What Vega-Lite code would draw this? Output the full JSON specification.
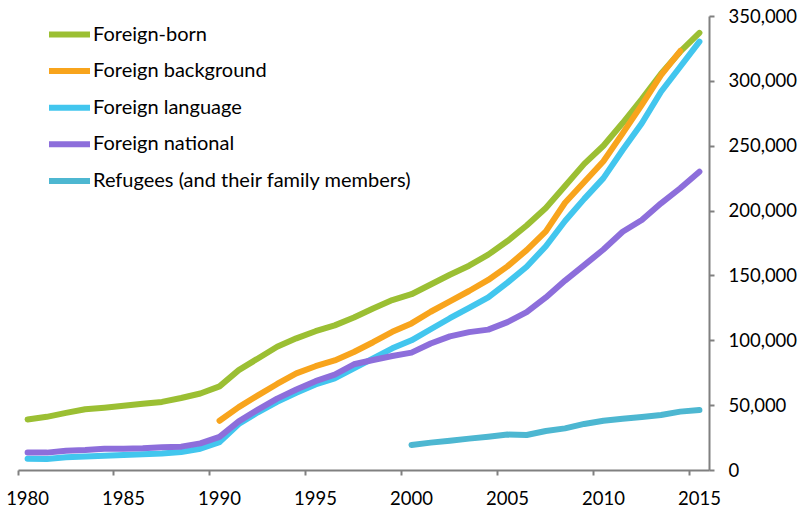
{
  "$schema": "https://vega.github.io/schema/vega-lite/v6.json",
  "autosize": {"type": "none"},
  "width": 691,
  "height": 454,
  "padding": {"left": 18, "top": 16, "right": 93, "bottom": 39},
  "background": "white",
  "config": {
    "view": {"stroke": null},
    "font": "Lato",
    "axis": {"grid": false, "title": null}
  },
  "data": {
    "values": [
      {"year": 1980, "series": "Foreign-born", "value": 39000},
      {"year": 1981, "series": "Foreign-born", "value": 41000},
      {"year": 1982, "series": "Foreign-born", "value": 44000},
      {"year": 1983, "series": "Foreign-born", "value": 46800},
      {"year": 1984, "series": "Foreign-born", "value": 48000},
      {"year": 1985, "series": "Foreign-born", "value": 49500},
      {"year": 1986, "series": "Foreign-born", "value": 51000},
      {"year": 1987, "series": "Foreign-born", "value": 52500},
      {"year": 1988, "series": "Foreign-born", "value": 55500},
      {"year": 1989, "series": "Foreign-born", "value": 59000},
      {"year": 1990, "series": "Foreign-born", "value": 64500},
      {"year": 1991, "series": "Foreign-born", "value": 77000},
      {"year": 1992, "series": "Foreign-born", "value": 86000},
      {"year": 1993, "series": "Foreign-born", "value": 95000},
      {"year": 1994, "series": "Foreign-born", "value": 101500},
      {"year": 1995, "series": "Foreign-born", "value": 107000},
      {"year": 1996, "series": "Foreign-born", "value": 111500},
      {"year": 1997, "series": "Foreign-born", "value": 117500},
      {"year": 1998, "series": "Foreign-born", "value": 124500},
      {"year": 1999, "series": "Foreign-born", "value": 131000},
      {"year": 2000, "series": "Foreign-born", "value": 135500},
      {"year": 2001, "series": "Foreign-born", "value": 143000},
      {"year": 2002, "series": "Foreign-born", "value": 150500},
      {"year": 2003, "series": "Foreign-born", "value": 157500},
      {"year": 2004, "series": "Foreign-born", "value": 166000},
      {"year": 2005, "series": "Foreign-born", "value": 176500},
      {"year": 2006, "series": "Foreign-born", "value": 188500},
      {"year": 2007, "series": "Foreign-born", "value": 202000},
      {"year": 2008, "series": "Foreign-born", "value": 219000},
      {"year": 2009, "series": "Foreign-born", "value": 236000},
      {"year": 2010, "series": "Foreign-born", "value": 250000},
      {"year": 2011, "series": "Foreign-born", "value": 267500},
      {"year": 2012, "series": "Foreign-born", "value": 286000},
      {"year": 2013, "series": "Foreign-born", "value": 305500},
      {"year": 2014, "series": "Foreign-born", "value": 322500},
      {"year": 2015, "series": "Foreign-born", "value": 337000},

      {"year": 1990, "series": "Foreign background", "value": 38000},
      {"year": 1991, "series": "Foreign background", "value": 48500},
      {"year": 1992, "series": "Foreign background", "value": 57500},
      {"year": 1993, "series": "Foreign background", "value": 66300},
      {"year": 1994, "series": "Foreign background", "value": 74500},
      {"year": 1995, "series": "Foreign background", "value": 80000},
      {"year": 1996, "series": "Foreign background", "value": 84500},
      {"year": 1997, "series": "Foreign background", "value": 91000},
      {"year": 1998, "series": "Foreign background", "value": 98500},
      {"year": 1999, "series": "Foreign background", "value": 106500},
      {"year": 2000, "series": "Foreign background", "value": 113000},
      {"year": 2001, "series": "Foreign background", "value": 122000},
      {"year": 2002, "series": "Foreign background", "value": 130000},
      {"year": 2003, "series": "Foreign background", "value": 138000},
      {"year": 2004, "series": "Foreign background", "value": 146500},
      {"year": 2005, "series": "Foreign background", "value": 157000},
      {"year": 2006, "series": "Foreign background", "value": 169500},
      {"year": 2007, "series": "Foreign background", "value": 184000},
      {"year": 2008, "series": "Foreign background", "value": 206000},
      {"year": 2009, "series": "Foreign background", "value": 222000},
      {"year": 2010, "series": "Foreign background", "value": 238000},
      {"year": 2011, "series": "Foreign background", "value": 259500},
      {"year": 2012, "series": "Foreign background", "value": 281500},
      {"year": 2013, "series": "Foreign background", "value": 304500},
      {"year": 2014, "series": "Foreign background", "value": 323000},

      {"year": 1980, "series": "Foreign language", "value": 8700},
      {"year": 1981, "series": "Foreign language", "value": 8500},
      {"year": 1982, "series": "Foreign language", "value": 9800},
      {"year": 1983, "series": "Foreign language", "value": 10500},
      {"year": 1984, "series": "Foreign language", "value": 11000},
      {"year": 1985, "series": "Foreign language", "value": 11600},
      {"year": 1986, "series": "Foreign language", "value": 12100},
      {"year": 1987, "series": "Foreign language", "value": 12800},
      {"year": 1988, "series": "Foreign language", "value": 13900},
      {"year": 1989, "series": "Foreign language", "value": 16400},
      {"year": 1990, "series": "Foreign language", "value": 21500},
      {"year": 1991, "series": "Foreign language", "value": 35500},
      {"year": 1992, "series": "Foreign language", "value": 44500},
      {"year": 1993, "series": "Foreign language", "value": 52500},
      {"year": 1994, "series": "Foreign language", "value": 59500},
      {"year": 1995, "series": "Foreign language", "value": 66000},
      {"year": 1996, "series": "Foreign language", "value": 70700},
      {"year": 1997, "series": "Foreign language", "value": 78400},
      {"year": 1998, "series": "Foreign language", "value": 86100},
      {"year": 1999, "series": "Foreign language", "value": 93800},
      {"year": 2000, "series": "Foreign language", "value": 100000},
      {"year": 2001, "series": "Foreign language", "value": 108500},
      {"year": 2002, "series": "Foreign language", "value": 117000},
      {"year": 2003, "series": "Foreign language", "value": 125000},
      {"year": 2004, "series": "Foreign language", "value": 133000},
      {"year": 2005, "series": "Foreign language", "value": 144500},
      {"year": 2006, "series": "Foreign language", "value": 156700},
      {"year": 2007, "series": "Foreign language", "value": 172500},
      {"year": 2008, "series": "Foreign language", "value": 192000},
      {"year": 2009, "series": "Foreign language", "value": 209000},
      {"year": 2010, "series": "Foreign language", "value": 225000},
      {"year": 2011, "series": "Foreign language", "value": 246700},
      {"year": 2012, "series": "Foreign language", "value": 267300},
      {"year": 2013, "series": "Foreign language", "value": 291600},
      {"year": 2014, "series": "Foreign language", "value": 310900},
      {"year": 2015, "series": "Foreign language", "value": 330200},

      {"year": 1980, "series": "Foreign national", "value": 13400},
      {"year": 1981, "series": "Foreign national", "value": 13400},
      {"year": 1982, "series": "Foreign national", "value": 14900},
      {"year": 1983, "series": "Foreign national", "value": 15400},
      {"year": 1984, "series": "Foreign national", "value": 16400},
      {"year": 1985, "series": "Foreign national", "value": 16400},
      {"year": 1986, "series": "Foreign national", "value": 16700},
      {"year": 1987, "series": "Foreign national", "value": 17500},
      {"year": 1988, "series": "Foreign national", "value": 18000},
      {"year": 1989, "series": "Foreign national", "value": 20500},
      {"year": 1990, "series": "Foreign national", "value": 25500},
      {"year": 1991, "series": "Foreign national", "value": 37500},
      {"year": 1992, "series": "Foreign national", "value": 46500},
      {"year": 1993, "series": "Foreign national", "value": 55000},
      {"year": 1994, "series": "Foreign national", "value": 62000},
      {"year": 1995, "series": "Foreign national", "value": 68500},
      {"year": 1996, "series": "Foreign national", "value": 73500},
      {"year": 1997, "series": "Foreign national", "value": 81500},
      {"year": 1998, "series": "Foreign national", "value": 84800},
      {"year": 1999, "series": "Foreign national", "value": 87900},
      {"year": 2000, "series": "Foreign national", "value": 90500},
      {"year": 2001, "series": "Foreign national", "value": 97500},
      {"year": 2002, "series": "Foreign national", "value": 103000},
      {"year": 2003, "series": "Foreign national", "value": 106300},
      {"year": 2004, "series": "Foreign national", "value": 108200},
      {"year": 2005, "series": "Foreign national", "value": 114000},
      {"year": 2006, "series": "Foreign national", "value": 121700},
      {"year": 2007, "series": "Foreign national", "value": 133000},
      {"year": 2008, "series": "Foreign national", "value": 146000},
      {"year": 2009, "series": "Foreign national", "value": 158000},
      {"year": 2010, "series": "Foreign national", "value": 170000},
      {"year": 2011, "series": "Foreign national", "value": 183700},
      {"year": 2012, "series": "Foreign national", "value": 192700},
      {"year": 2013, "series": "Foreign national", "value": 205600},
      {"year": 2014, "series": "Foreign national", "value": 217200},
      {"year": 2015, "series": "Foreign national", "value": 230000},

      {"year": 2000, "series": "Refugees (and their family members)", "value": 19300},
      {"year": 2001, "series": "Refugees (and their family members)", "value": 21100},
      {"year": 2002, "series": "Refugees (and their family members)", "value": 22600},
      {"year": 2003, "series": "Refugees (and their family members)", "value": 24200},
      {"year": 2004, "series": "Refugees (and their family members)", "value": 25700},
      {"year": 2005, "series": "Refugees (and their family members)", "value": 27300},
      {"year": 2006, "series": "Refugees (and their family members)", "value": 27000},
      {"year": 2007, "series": "Refugees (and their family members)", "value": 30100},
      {"year": 2008, "series": "Refugees (and their family members)", "value": 32100},
      {"year": 2009, "series": "Refugees (and their family members)", "value": 35500},
      {"year": 2010, "series": "Refugees (and their family members)", "value": 38000},
      {"year": 2011, "series": "Refugees (and their family members)", "value": 39500},
      {"year": 2012, "series": "Refugees (and their family members)", "value": 40900},
      {"year": 2013, "series": "Refugees (and their family members)", "value": 42400},
      {"year": 2014, "series": "Refugees (and their family members)", "value": 45000},
      {"year": 2015, "series": "Refugees (and their family members)", "value": 46300}
    ]
  },
  "mark": {"type": "line", "strokeCap": "round", "strokeJoin": "round"},
  "encoding": {
    "x": {
      "field": "year",
      "type": "ordinal",
      "scale": {"type": "band", "paddingInner": 0, "paddingOuter": 0},
      "axis": {
        "values": [1980, 1985, 1990, 1995, 2000, 2005, 2010, 2015],
        "bandPosition": 0,
        "labelOffset": 0,
        "labelAngle": 0,
        "labelFont": "Lato",
        "labelFontSize": 18.5,
        "labelColor": "#000000",
        "labelPadding": 14,
        "domainColor": "#808080",
        "domainWidth": 2,
        "tickColor": "#808080",
        "tickWidth": 2,
        "tickSize": 5
      }
    },
    "y": {
      "field": "value",
      "type": "quantitative",
      "scale": {"domain": [0, 350000], "nice": false},
      "axis": {
        "orient": "right",
        "values": [0, 50000, 100000, 150000, 200000, 250000, 300000, 350000],
        "format": ",d",
        "labelFont": "Lato",
        "labelFontSize": 18.5,
        "labelColor": "#000000",
        "labelPadding": 14,
        "domainColor": "#808080",
        "domainWidth": 2,
        "tickColor": "#808080",
        "tickWidth": 2,
        "tickSize": 5
      }
    },
    "color": {
      "field": "series",
      "type": "nominal",
      "scale": {
        "domain": ["Foreign-born", "Foreign background", "Foreign language", "Foreign national", "Refugees (and their family members)"],
        "range": ["#9BBF33", "#F8A41C", "#42C6EE", "#8D6EDB", "#4DB7D1"]
      },
      "legend": {
        "title": null,
        "orient": "none",
        "legendX": 28,
        "legendY": -5,
        "padding": 0,
        "symbolType": "stroke",
        "symbolSize": 1681,
        "symbolStrokeWidth": 5,
        "labelFont": "Lato",
        "labelFontSize": 20,
        "labelColor": "#000000",
        "labelOffset": 0,
        "rowPadding": 0.6,
        "labelLimit": 500
      }
    },
    "strokeWidth": {
      "field": "series",
      "type": "nominal",
      "scale": {
        "domain": ["Foreign-born", "Foreign background", "Foreign language", "Foreign national", "Refugees (and their family members)"],
        "range": [6, 6, 6, 6, 4.5]
      },
      "legend": null
    }
  }
}
